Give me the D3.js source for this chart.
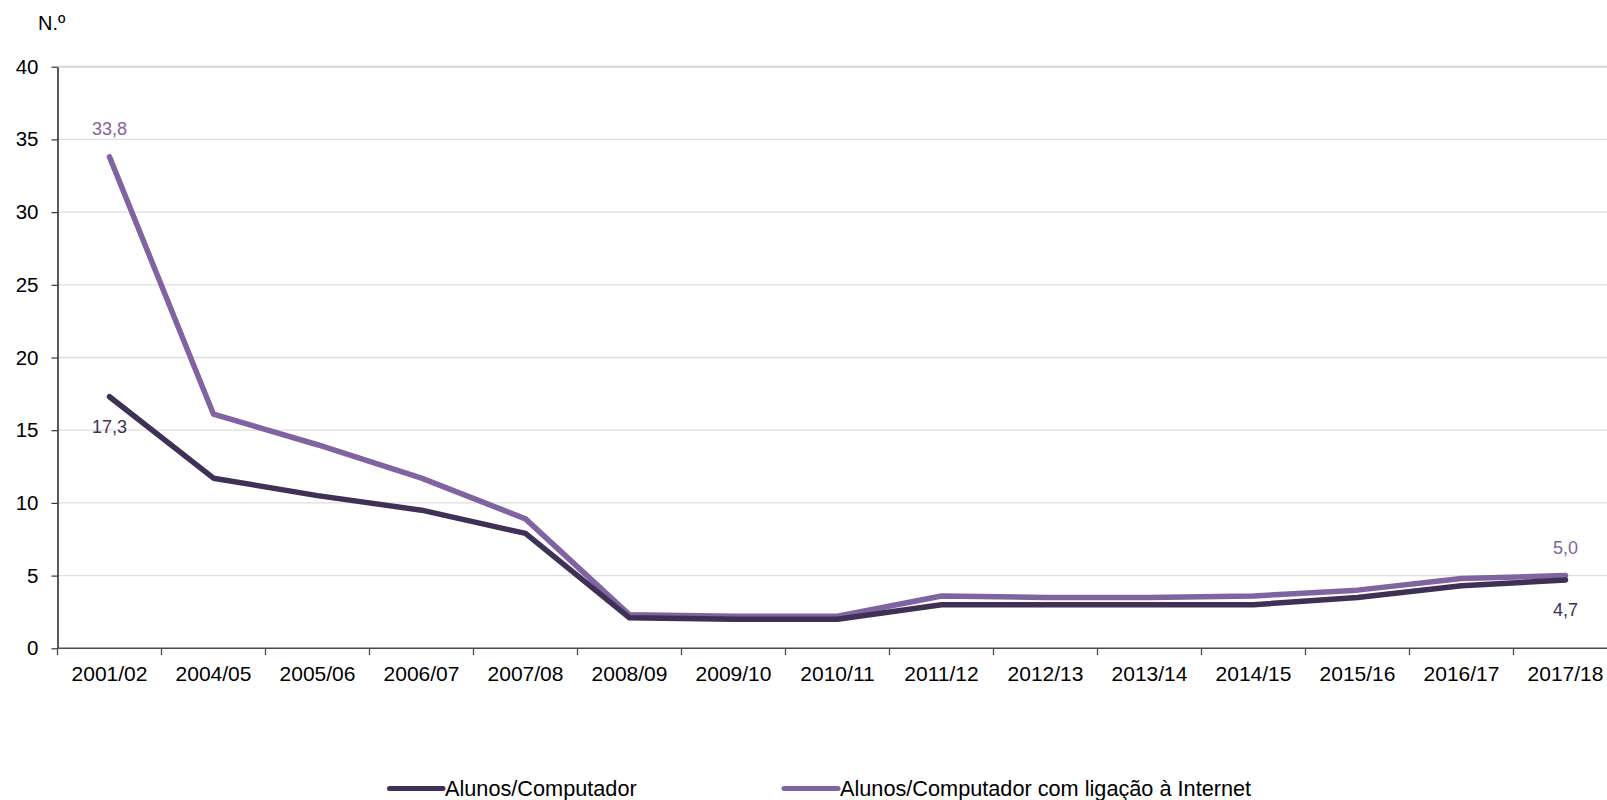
<!DOCTYPE html>
<html><head><meta charset="utf-8">
<script src="https://cdn.jsdelivr.net/npm/d3@7"></script>
<style>body{margin:0;background:#fff}svg{display:block;font-family:"Liberation Sans",Arial,sans-serif}</style>
</head><body>
<script>
const categories = ["2001/02","2004/05","2005/06","2006/07","2007/08","2008/09","2009/10","2010/11","2011/12","2012/13","2013/14","2014/15","2015/16","2016/17","2017/18"];
const alunosComputador = [17.3,11.7,10.5,9.5,7.9,2.1,2.0,2.0,3.0,3.0,3.0,3.0,3.5,4.3,4.7];
const alunosInternet = [33.8,16.1,14.0,11.7,8.9,2.3,2.2,2.2,3.6,3.5,3.5,3.6,4.0,4.8,5.0];
const yTicks = [0,5,10,15,20,25,30,35,40];
const seriesNames = ["Alunos/Computador","Alunos/Computador com ligação à Internet"];
const colors = ["#3f3055","#8064a2"];

const W = 1607, H = 800;
const svg = d3.select("body").append("svg").attr("width", W).attr("height", H);

const x = d3.scaleBand().domain(categories).range([57.5, 1617.5]).paddingInner(0).paddingOuter(0);
const y = d3.scaleLinear().domain([0, 40]).range([648.3, 66.7]);

// gridlines
svg.append("g").selectAll("line").data(yTicks.filter(d => d > 0)).join("line")
  .attr("x1", 57.5).attr("x2", W).attr("y1", d => y(d)).attr("y2", d => y(d))
  .attr("stroke", d => d === 40 ? "#d4d4d4" : "#dedede").attr("stroke-width", d => d === 40 ? 2 : 1.3);

// y axis
const yAxis = svg.append("g").attr("transform", "translate(57.5,0)")
  .call(d3.axisLeft(y).tickValues(yTicks).tickSize(6).tickPadding(13).tickSizeOuter(0));
yAxis.select(".domain").attr("stroke", "#000").attr("stroke-width", 1.3);
yAxis.selectAll(".tick line").attr("stroke", "#333").attr("stroke-width", 1.2);
yAxis.selectAll("text").attr("font-size", 20.5).attr("fill", "#000").attr("font-family", "Liberation Sans, Arial, sans-serif");

// x axis
const xAxis = svg.append("g").attr("transform", `translate(0,${y(0)})`)
  .call(d3.axisBottom(x).tickSize(0).tickPadding(18).tickSizeOuter(0));
xAxis.select(".domain").remove();
xAxis.selectAll("text").attr("font-size", 21).attr("fill", "#000").attr("font-family", "Liberation Sans, Arial, sans-serif");
xAxis.append("line").attr("x1", 57.5).attr("x2", W).attr("y1", 0).attr("y2", 0).attr("stroke", "#4d4d4d").attr("stroke-width", 1.5);
xAxis.selectAll(".bnd").data(categories).join("line").attr("class", "bnd")
  .attr("x1", d => x(d)).attr("x2", d => x(d)).attr("y1", 0).attr("y2", 7)
  .attr("stroke", "#4d4d4d").attr("stroke-width", 1.3);

// y unit label
svg.append("text").attr("x", 38).attr("y", 30).attr("font-size", 20).attr("fill", "#000").text("N.º");

// lines
const allSeries = [alunosComputador, alunosInternet];
const line = d3.line().x((d, i) => x(categories[i]) + x.bandwidth() / 2).y(d => y(d));
[1, 0].forEach(k => {
  svg.append("path").datum(allSeries[k]).attr("d", line)
    .attr("fill", "none").attr("stroke", colors[k]).attr("stroke-width", 5.5)
    .attr("stroke-linejoin", "round").attr("stroke-linecap", "round");
});

// data labels (first and last)
const cx = i => x(categories[i]) + x.bandwidth() / 2;
const last = categories.length - 1;
const fmt = v => d3.format(".1f")(v).replace(".", ",");
const labels = [
  {i: 0, v: alunosInternet[0], c: colors[1], dy: -22},
  {i: 0, v: alunosComputador[0], c: colors[0], dy: 36},
  {i: last, v: alunosInternet[last], c: colors[1], dy: -22},
  {i: last, v: alunosComputador[last], c: colors[0], dy: 36.5}
];
svg.append("g").selectAll("text").data(labels).join("text")
  .attr("x", d => cx(d.i)).attr("y", d => y(d.v) + d.dy)
  .attr("text-anchor", "middle").attr("font-size", 18).attr("fill", d => d.c)
  .text(d => fmt(d.v));

// legend
const legendItems = [{x1: 389.5, x2: 443, tx: 445}, {x1: 784, x2: 838, tx: 840}];
const lg = svg.append("g");
legendItems.forEach((it, k) => {
  lg.append("line").attr("x1", it.x1).attr("x2", it.x2).attr("y1", 788.5).attr("y2", 788.5)
    .attr("stroke", colors[k]).attr("stroke-width", 5).attr("stroke-linecap", "round");
  lg.append("text").attr("x", it.tx).attr("y", 796).attr("font-size", 21.7).attr("fill", "#000")
    .text(seriesNames[k]);
});
</script>
</body></html>
